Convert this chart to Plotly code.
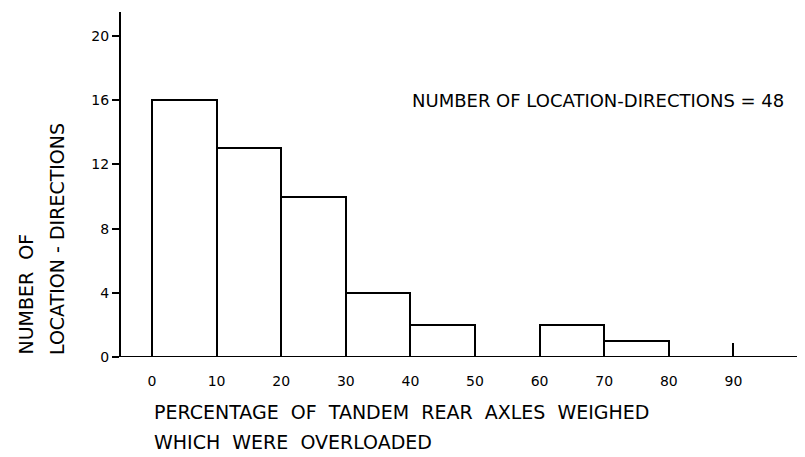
import plotly.graph_objects as go

bin_starts = [0, 10, 20, 30, 40, 50, 60, 70, 80]
bin_width = 10
counts = [16, 13, 10, 4, 2, 0, 2, 1, 0]
x_ticks = [0, 10, 20, 30, 40, 50, 60, 70, 80, 90]
x_tick_labels = ["0", "10", "20", "30", "40", "50", "60", "70", "80", "90"]
y_ticks = [0, 4, 8, 12, 16, 20]
marker_tick = [90]
total_label = "NUMBER OF LOCATION-DIRECTIONS = 48"

FONT = "DejaVu Sans"
centers = [s + bin_width / 2 for s in bin_starts]

fig = go.Figure()
fig.add_trace(go.Bar(
    x=centers, y=counts, width=[bin_width] * len(counts),
    marker=dict(color="white", line=dict(color="black", width=2)),
    showlegend=False,
))
# invisible trace on second x-axis to show the lone tick at 90
fig.add_trace(go.Scatter(x=marker_tick, y=[0], xaxis="x2", mode="markers",
                         marker=dict(opacity=0), showlegend=False, hoverinfo="skip"))

fig.update_layout(
    width=797, height=449,
    margin=dict(l=113, r=7, t=4, b=100),
    plot_bgcolor="white", paper_bgcolor="white",
    font=dict(family=FONT, color="black", size=13),
    bargap=0,
    xaxis=dict(range=[-4.8, 100], tickvals=x_ticks, ticktext=x_tick_labels,
               showgrid=False, zeroline=False, showline=False, ticks="",
               ticklabelstandoff=14, tickfont=dict(size=14)),
    xaxis2=dict(range=[-4.8, 100], overlaying="x", anchor="y", side="bottom",
                tickvals=marker_tick, ticks="inside", ticklen=14, tickwidth=2,
                tickcolor="black", showticklabels=False, showgrid=False, zeroline=False,
                showline=False),
    yaxis=dict(range=[0, 21.5], tickvals=y_ticks, showgrid=False, zeroline=False,
               showline=True, linecolor="black", linewidth=2,
               ticks="outside", ticklen=7, tickwidth=2, tickcolor="black",
               tickfont=dict(size=14)),
    shapes=[dict(type="line", xref="paper", yref="y", x0=0, x1=1, y0=0, y1=0,
                 line=dict(color="black", width=2))],
    annotations=[
        dict(text=total_label, xref="x", yref="y", x=40, y=16.0, xanchor="left",
             yanchor="middle", showarrow=False, font=dict(size=18)),
        dict(text="PERCENTAGE  OF  TANDEM  REAR  AXLES  WEIGHED", xref="x", yref="paper",
             x=0, y=-0.159, xanchor="left", yanchor="middle", showarrow=False,
             font=dict(size=19)),
        dict(text="WHICH  WERE  OVERLOADED", xref="x", yref="paper",
             x=0, y=-0.246, xanchor="left", yanchor="middle", showarrow=False,
             font=dict(size=19)),
        dict(text="NUMBER  OF", xref="paper", yref="y", x=-0.1418, y=0,
             xanchor="center", yanchor="bottom", textangle=-90, showarrow=False,
             font=dict(size=19)),
        dict(text="LOCATION - DIRECTIONS", xref="paper", yref="y", x=-0.0945, y=0,
             xanchor="center", yanchor="bottom", textangle=-90, showarrow=False,
             font=dict(size=19)),
    ],
)

fig.write_html("out.html")
